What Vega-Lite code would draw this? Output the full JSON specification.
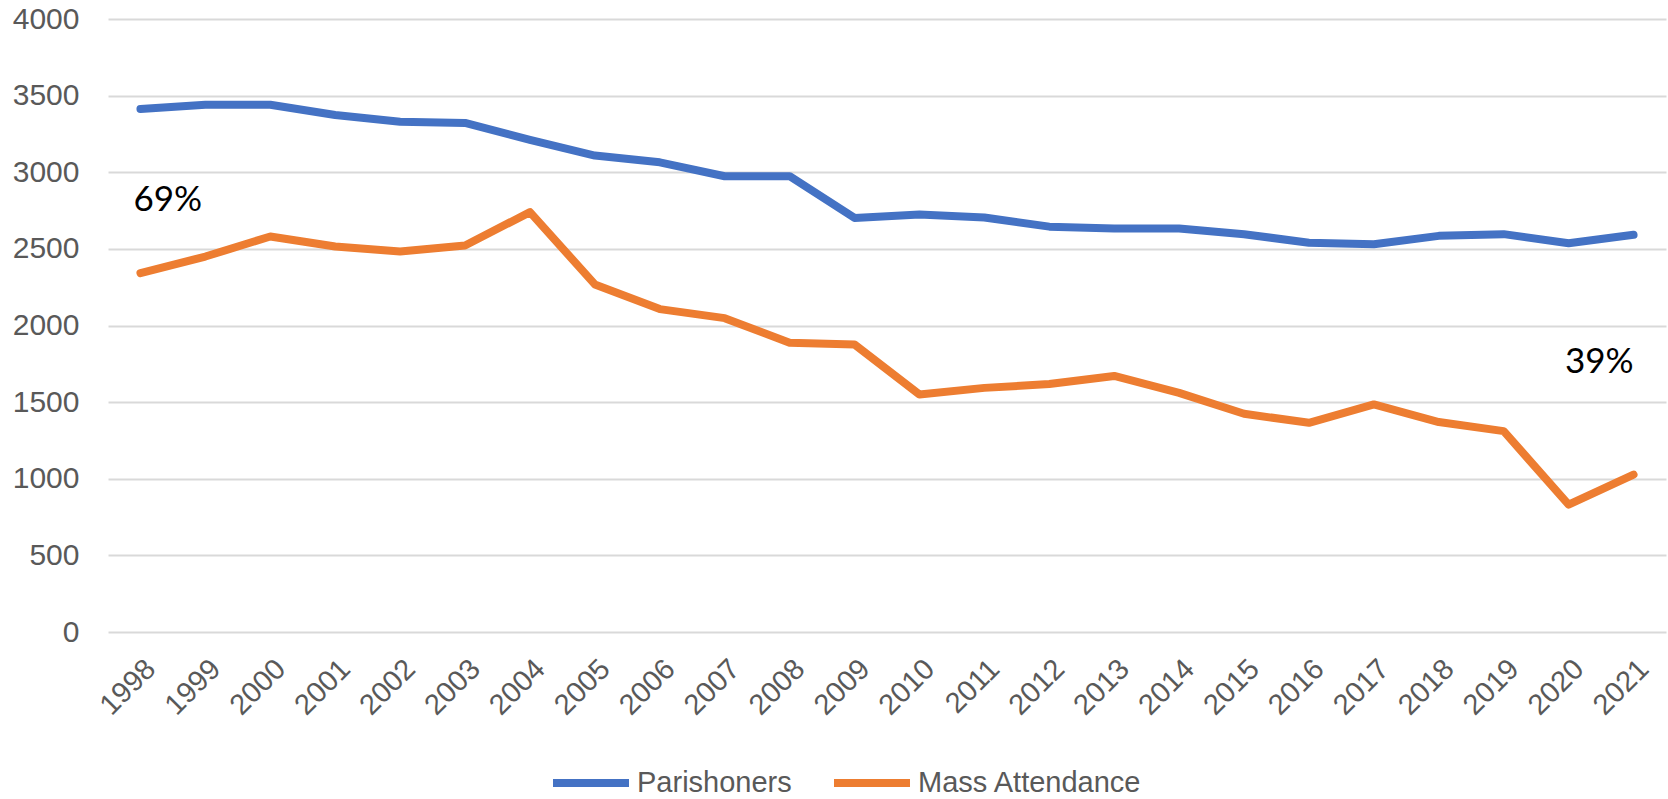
{
  "$schema": "https://vega.github.io/schema/vega-lite/v6.json",
  "width": 1558,
  "height": 613,
  "autosize": {"type": "none"},
  "padding": {"left": 108, "top": 19, "right": 2, "bottom": 167},
  "background": "white",
  "config": {"view": {"stroke": null}, "font": "Liberation Sans"},
  "datasets": {
    "series": [
      {"year": "1998", "series": "Parishoners", "value": 3413},
      {"year": "1999", "series": "Parishoners", "value": 3440},
      {"year": "2000", "series": "Parishoners", "value": 3440},
      {"year": "2001", "series": "Parishoners", "value": 3374},
      {"year": "2002", "series": "Parishoners", "value": 3330},
      {"year": "2003", "series": "Parishoners", "value": 3322},
      {"year": "2004", "series": "Parishoners", "value": 3211},
      {"year": "2005", "series": "Parishoners", "value": 3109},
      {"year": "2006", "series": "Parishoners", "value": 3065},
      {"year": "2007", "series": "Parishoners", "value": 2974},
      {"year": "2008", "series": "Parishoners", "value": 2974},
      {"year": "2009", "series": "Parishoners", "value": 2702},
      {"year": "2010", "series": "Parishoners", "value": 2724},
      {"year": "2011", "series": "Parishoners", "value": 2705},
      {"year": "2012", "series": "Parishoners", "value": 2645},
      {"year": "2013", "series": "Parishoners", "value": 2633},
      {"year": "2014", "series": "Parishoners", "value": 2633},
      {"year": "2015", "series": "Parishoners", "value": 2596},
      {"year": "2016", "series": "Parishoners", "value": 2540},
      {"year": "2017", "series": "Parishoners", "value": 2530},
      {"year": "2018", "series": "Parishoners", "value": 2585},
      {"year": "2019", "series": "Parishoners", "value": 2596},
      {"year": "2020", "series": "Parishoners", "value": 2537},
      {"year": "2021", "series": "Parishoners", "value": 2592},
      {"year": "1998", "series": "Mass Attendance", "value": 2342},
      {"year": "1999", "series": "Mass Attendance", "value": 2450},
      {"year": "2000", "series": "Mass Attendance", "value": 2581},
      {"year": "2001", "series": "Mass Attendance", "value": 2515},
      {"year": "2002", "series": "Mass Attendance", "value": 2483},
      {"year": "2003", "series": "Mass Attendance", "value": 2522},
      {"year": "2004", "series": "Mass Attendance", "value": 2740},
      {"year": "2005", "series": "Mass Attendance", "value": 2268},
      {"year": "2006", "series": "Mass Attendance", "value": 2107},
      {"year": "2007", "series": "Mass Attendance", "value": 2048},
      {"year": "2008", "series": "Mass Attendance", "value": 1887},
      {"year": "2009", "series": "Mass Attendance", "value": 1876},
      {"year": "2010", "series": "Mass Attendance", "value": 1550},
      {"year": "2011", "series": "Mass Attendance", "value": 1593},
      {"year": "2012", "series": "Mass Attendance", "value": 1618},
      {"year": "2013", "series": "Mass Attendance", "value": 1671},
      {"year": "2014", "series": "Mass Attendance", "value": 1560},
      {"year": "2015", "series": "Mass Attendance", "value": 1424},
      {"year": "2016", "series": "Mass Attendance", "value": 1365},
      {"year": "2017", "series": "Mass Attendance", "value": 1485},
      {"year": "2018", "series": "Mass Attendance", "value": 1370},
      {"year": "2019", "series": "Mass Attendance", "value": 1311},
      {"year": "2020", "series": "Mass Attendance", "value": 831},
      {"year": "2021", "series": "Mass Attendance", "value": 1027}
    ],
    "notes": [
      {"year": "1998", "value": 2820, "label": "69%"},
      {"year": "2021", "value": 1764, "label": "39%"}
    ]
  },
  "layer": [
    {
      "data": {"name": "series"},
      "mark": {"type": "line", "strokeWidth": 8, "strokeCap": "round", "strokeJoin": "round"},
      "encoding": {
        "x": {
          "field": "year", "type": "ordinal",
          "scale": {"type": "point", "padding": 0.5},
          "axis": {"title": null, "labelAngle": -45, "labelFontSize": 29, "labelColor": "#595959",
                   "ticks": false, "tickSize": 0, "domain": false, "grid": false, "labelPadding": 22,
                   "labelOverlap": false, "labelBound": false}
        },
        "y": {
          "field": "value", "type": "quantitative",
          "scale": {"domain": [0, 4000], "nice": false},
          "axis": {"title": null, "values": [0, 500, 1000, 1500, 2000, 2500, 3000, 3500, 4000],
                   "format": "d",
                   "labelFontSize": 30, "labelColor": "#595959", "ticks": false, "tickSize": 0,
                   "domain": false, "grid": true, "gridColor": "#D9D9D9", "gridWidth": 2,
                   "labelPadding": 29}
        },
        "color": {
          "field": "series", "type": "nominal",
          "scale": {"domain": ["Parishoners", "Mass Attendance"], "range": ["#4472C4", "#ED7D31"]},
          "legend": {"title": null, "orient": "none", "legendX": 441, "legendY": 722,
                     "direction": "horizontal", "symbolType": "stroke",
                     "symbolSize": 5776, "symbolStrokeWidth": 8, "labelFontSize": 29,
                     "labelLimit": 500, "labelColor": "#595959", "columnPadding": 26, "labelOffset": 4}
        }
      }
    },
    {
      "data": {"name": "notes"},
      "transform": [{"filter": "datum.label == '69%'"}],
      "mark": {"type": "text", "font": "Lato", "fontSize": 35, "color": "black", "align": "left", "baseline": "middle", "dx": -7},
      "encoding": {
        "x": {"field": "year", "type": "ordinal"},
        "y": {"field": "value", "type": "quantitative"},
        "text": {"field": "label"}
      }
    },
    {
      "data": {"name": "notes"},
      "transform": [{"filter": "datum.label == '39%'"}],
      "mark": {"type": "text", "font": "Lato", "fontSize": 35, "color": "black", "align": "right", "baseline": "middle", "dx": 0},
      "encoding": {
        "x": {"field": "year", "type": "ordinal"},
        "y": {"field": "value", "type": "quantitative"},
        "text": {"field": "label"}
      }
    }
  ]
}
